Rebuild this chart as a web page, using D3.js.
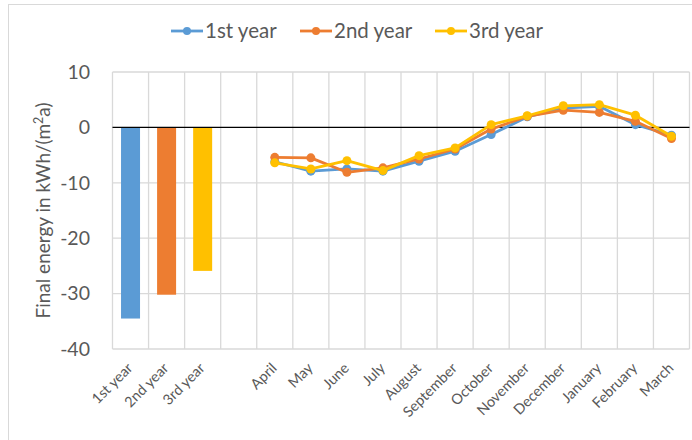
<!DOCTYPE html>
<html>
<head>
<meta charset="utf-8">
<script src="https://cdn.jsdelivr.net/npm/d3@7"></script>
<style>
  body { margin: 0; background: #fff; }
  text { font-family: Lato, "Open Sans", sans-serif; fill: #595959; }
</style>
</head>
<body>
<svg id="chart" width="692" height="440"></svg>
<script>
// categories on the x axis (blank slot between bars and months)
const categories = ["1st year", "2nd year", "3rd year", "",
  "April", "May", "June", "July", "August", "September",
  "October", "November", "December", "January", "February", "March"];
const months = categories.slice(4);
const seriesNames = ["1st year", "2nd year", "3rd year"];
const colors = ["#5B9BD5", "#ED7D31", "#FFC000"];

// annual totals (bars)
const yearTotals = [-34.5, -30.2, -25.9];

// monthly values (lines)
const firstYear  = [-6.2, -7.9, -7.5, -7.9, -6.1, -4.3, -1.3, 1.9, 3.5, 3.8, 0.5, -1.4];
const secondYear = [-5.4, -5.5, -8.1, -7.3, -5.7, -3.9, -0.3, 2.0, 3.1, 2.7, 1.1, -2.0];
const thirdYear  = [-6.4, -7.5, -6.0, -7.8, -5.1, -3.7, 0.5, 2.1, 3.9, 4.1, 2.2, -1.6];
const monthly = [firstYear, secondYear, thirdYear];

const yTicks = [10, 0, -10, -20, -30, -40];

const svg = d3.select("#chart");

// outer frame
svg.append("rect")
  .attr("x", 8.5).attr("y", 4.5)
  .attr("width", 700).attr("height", 460)
  .attr("fill", "none").attr("stroke", "#d9d9d9");

const plotL = 112.5, plotR = 689.5, plotT = 72, plotB = 349;

const x = d3.scaleBand().domain(categories).range([plotL, plotR]);
const y = d3.scaleLinear().domain([-40, 10]).range([plotB, plotT]);

// horizontal gridlines
svg.append("g")
  .selectAll("line")
  .data(yTicks.filter(d => d !== 0))
  .join("line")
  .attr("x1", plotL).attr("x2", plotR)
  .attr("y1", d => y(d)).attr("y2", d => y(d))
  .attr("stroke", "#d9d9d9").attr("stroke-width", 1.3);

// vertical gridlines at category boundaries
const bounds = categories.map(c => x(c)).concat([plotR]);
svg.append("g")
  .selectAll("line")
  .data(bounds)
  .join("line")
  .attr("x1", d => d).attr("x2", d => d)
  .attr("y1", plotT).attr("y2", plotB)
  .attr("stroke", "#d9d9d9").attr("stroke-width", 1.3);

// y tick labels
svg.append("g")
  .selectAll("text")
  .data(yTicks)
  .join("text")
  .attr("x", 90)
  .attr("y", d => y(d))
  .attr("dy", "0.35em")
  .attr("text-anchor", "end")
  .style("font-size", "19.5px")
  .text(d => d);

// y axis title
const title = svg.append("text")
  .attr("transform", `translate(50,${(plotT + plotB) / 2}) rotate(-90)`)
  .attr("text-anchor", "middle")
  .style("font-size", "19px");
title.append("tspan").text("Final energy in kWh/(m");
title.append("tspan").attr("dy", -7).style("font-size", "12.5px").text("2");
title.append("tspan").attr("dy", 7).text("a)");

// x labels
svg.append("g")
  .selectAll("text")
  .data(categories)
  .join("text")
  .attr("transform", d => `translate(${x(d) + x.bandwidth() / 2 + 3},369) rotate(-45)`)
  .attr("text-anchor", "end")
  .style("font-size", "14.5px")
  .text(d => d);

// bars
const barW = 19;
svg.append("g")
  .selectAll("rect")
  .data(yearTotals)
  .join("rect")
  .attr("x", (d, i) => x(categories[i]) + x.bandwidth() / 2 - barW / 2)
  .attr("y", y(0))
  .attr("width", barW)
  .attr("height", d => y(d) - y(0))
  .attr("fill", (d, i) => colors[i]);

// zero line
svg.append("line")
  .attr("x1", plotL).attr("x2", plotR)
  .attr("y1", y(0)).attr("y2", y(0))
  .attr("stroke", "#000").attr("stroke-width", 1.3);

// lines
const line = d3.line()
  .x((d, i) => x(months[i]) + x.bandwidth() / 2)
  .y(d => y(d));

monthly.forEach((vals, s) => {
  const g = svg.append("g");
  g.append("path")
    .datum(vals)
    .attr("d", line)
    .attr("fill", "none")
    .attr("stroke", colors[s])
    .attr("stroke-width", 2.8)
    .attr("stroke-linejoin", "round");
  g.selectAll("circle")
    .data(vals)
    .join("circle")
    .attr("cx", (d, i) => x(months[i]) + x.bandwidth() / 2)
    .attr("cy", d => y(d))
    .attr("r", 4.5)
    .attr("fill", colors[s]);
});

// legend
const legendX = [171, 300, 435];
const legend = svg.append("g")
  .selectAll("g")
  .data(seriesNames)
  .join("g")
  .attr("transform", (d, i) => `translate(${legendX[i]},31)`);
legend.append("line")
  .attr("x1", 0).attr("x2", 32)
  .attr("stroke", (d, i) => colors[i]).attr("stroke-width", 2.8);
legend.append("circle")
  .attr("cx", 16).attr("r", 4)
  .attr("fill", (d, i) => colors[i]);
legend.append("text")
  .attr("x", 34).attr("dy", "0.35em")
  .style("font-size", "20.5px")
  .text(d => d);
</script>
</body>
</html>
